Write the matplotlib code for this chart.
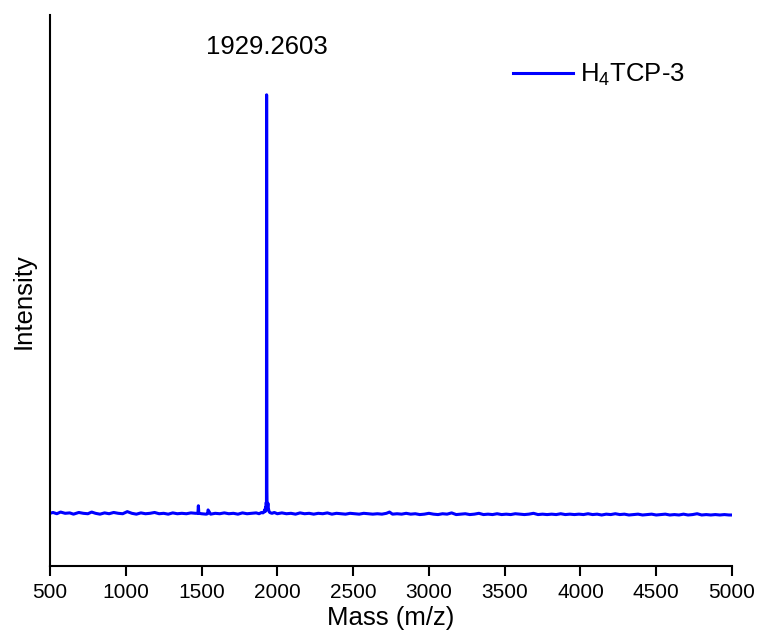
import matplotlib
matplotlib.use("Agg")
import matplotlib.pyplot as plt

plt.rcParams['font.family'] = ['Liberation Sans', 'DejaVu Sans']
plt.rcParams['mathtext.fontset'] = 'custom'
plt.rcParams['mathtext.rm'] = 'Liberation Sans'
plt.rcParams['mathtext.it'] = 'Liberation Sans:italic'
plt.rcParams['mathtext.default'] = 'regular'

# MALDI-TOF spectrum of H4TCP-3 (normalised intensity), ten points per row
mass = [500, 520, 545, 570, 600, 630, 655, 690, 720, 750,
        775, 800, 830, 860, 890, 920, 950, 980, 1010, 1040,
        1070, 1100, 1130, 1160, 1190, 1220, 1250, 1280, 1310, 1340,
        1370, 1400, 1430, 1460, 1476, 1479, 1482, 1500, 1530, 1540,
        1543, 1560, 1590, 1620, 1650, 1680, 1710, 1740, 1770, 1800,
        1830, 1860, 1880, 1895, 1905, 1912, 1916, 1919, 1922, 1925,
        1927, 1928.2, 1929.26, 1930.26, 1931.3, 1932.3, 1934, 1936, 1938, 1940,
        1943, 1946, 1950, 1956, 1965, 1980, 2000, 2030, 2060, 2090,
        2120, 2150, 2180, 2210, 2240, 2270, 2300, 2330, 2360, 2390,
        2420, 2450, 2480, 2510, 2540, 2570, 2600, 2630, 2660, 2690,
        2720, 2740, 2760, 2790, 2820, 2850, 2880, 2910, 2940, 2970,
        3000, 3030, 3060, 3090, 3120, 3150, 3180, 3210, 3240, 3270,
        3300, 3330, 3360, 3390, 3420, 3450, 3480, 3510, 3540, 3570,
        3600, 3630, 3660, 3690, 3720, 3750, 3780, 3810, 3840, 3870,
        3900, 3930, 3960, 3990, 4020, 4050, 4080, 4110, 4140, 4170,
        4200, 4230, 4260, 4290, 4320, 4350, 4380, 4410, 4440, 4470,
        4500, 4530, 4560, 4590, 4620, 4650, 4680, 4710, 4740, 4770,
        4800, 4830, 4860, 4890, 4920, 4950, 4980, 5000]
intensity = [0.004, 0.006, 0.003, 0.007, 0.004, 0.005, 0.002, 0.006, 0.004, 0.003,
             0.007, 0.004, 0.002, 0.005, 0.003, 0.006, 0.004, 0.003, 0.008, 0.004,
             0.002, 0.005, 0.003, 0.004, 0.006, 0.003, 0.004, 0.002, 0.005, 0.003,
             0.004, 0.003, 0.005, 0.004, 0.004, 0.022, 0.004, 0.003, 0.002, 0.003,
             0.012, 0.002, 0.004, 0.003, 0.005, 0.003, 0.004, 0.002, 0.005, 0.003,
             0.004, 0.005, 0.003, 0.006, 0.005, 0.007, 0.012, 0.008, 0.018, 0.010,
             0.030, 0.020, 1.000, 0.386, 0.060, 0.025, 0.015, 0.022, 0.028, 0.018,
             0.012, 0.008, 0.006, 0.005, 0.004, 0.006, 0.003, 0.005, 0.003, 0.004,
             0.002, 0.005, 0.003, 0.004, 0.002, 0.004, 0.003, 0.005, 0.002, 0.004,
             0.003, 0.002, 0.004, 0.003, 0.002, 0.004, 0.003, 0.002, 0.003, 0.002,
             0.004, 0.007, 0.002, 0.003, 0.002, 0.004, 0.002, 0.003, 0.001, 0.002,
             0.004, 0.002, 0.001, 0.003, 0.002, 0.005, 0.001, 0.002, 0.003, 0.001,
             0.002, 0.004, 0.001, 0.002, 0.001, 0.003, 0.001, 0.002, 0.001, 0.003,
             0.002, 0.001, 0.002, 0.004, 0.001, 0.002, 0.001, 0.002, 0.001, 0.003,
             0.001, 0.002, 0.001, 0.002, 0.001, 0.003, 0.001, 0.002, 0.000, 0.002,
             0.001, 0.003, 0.001, 0.002, 0.000, 0.001, 0.002, 0.000, 0.001, 0.002,
             0.000, 0.001, 0.002, 0.000, 0.001, 0.000, 0.002, 0.000, 0.001, 0.003,
             0.000, 0.001, 0.000, 0.001, 0.000, 0.001, 0.000, 0.000]

peak_mass = 1929.2603
peak_label = "1929.2603"
series_name = "H$_4$TCP-3"
x_ticks = [500, 1000, 1500, 2000, 2500, 3000, 3500, 4000, 4500, 5000]

fig = plt.figure(figsize=(7.6, 6.4), dpi=100)
ax = fig.add_axes([50 / 760, 74 / 640, 682 / 760, 551 / 640])

ax.plot(mass, intensity, color="#0000ff", linewidth=2.2, label=series_name)

ax.set_xlim(500, 5000)
ax.set_ylim(-0.1214, 1.19)
ax.set_xticks(x_ticks)
ax.set_yticks([])

for side in ("top", "right"):
    ax.spines[side].set_visible(False)
for side in ("left", "bottom"):
    ax.spines[side].set_linewidth(1.5)
ax.tick_params(axis="x", direction="out", length=7, width=1.5,
               labelsize=15, pad=5)

ax.set_xlabel("Mass (m/z)", fontsize=18.5, labelpad=3)
ax.set_ylabel("Intensity", fontsize=18.5)
ax.yaxis.set_label_coords(-0.0205, 0.48)

# peak label sits about 41 px above the apex
ax.annotate(peak_label, xy=(peak_mass, 1.0), xytext=(0, 29.5),
            textcoords="offset points", ha="center", va="baseline",
            fontsize=18.5)

ax.legend(loc="center left", bbox_to_anchor=(513 / 760, 1 - 75 / 640),
          bbox_transform=fig.transFigure, frameon=False, fontsize=18.5,
          handlelength=2.33, handletextpad=0.27, borderpad=0,
          borderaxespad=0)

fig.savefig("out.png", dpi=100)
